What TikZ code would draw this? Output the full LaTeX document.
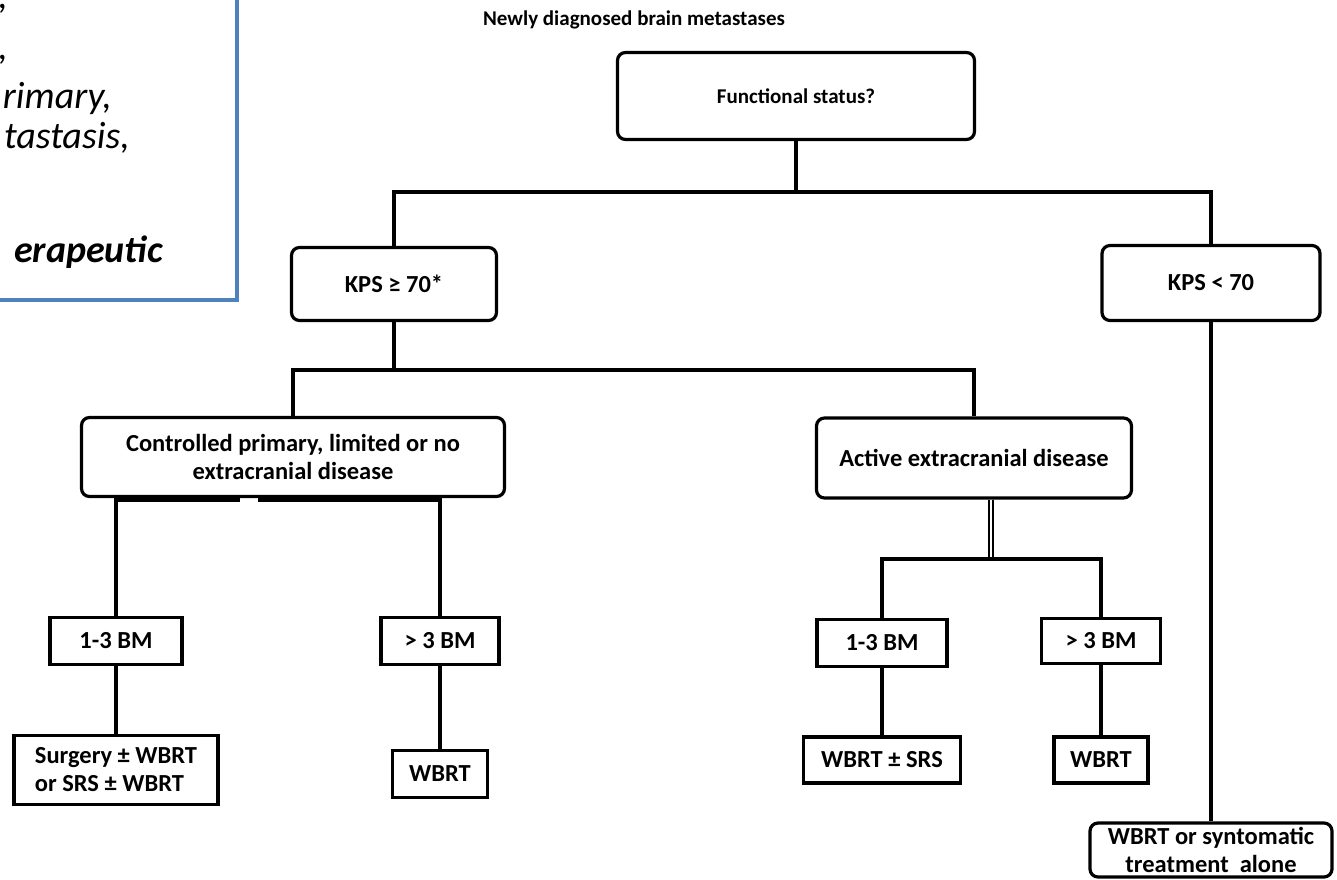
\documentclass[tikz,border=0pt]{standalone}
\usepackage{fontspec}
\setmainfont{Carlito}
\usetikzlibrary{positioning}

\definecolor{slideblue}{RGB}{79,129,189}

\begin{document}
\begin{tikzpicture}[x=1pt, y=-1pt,
    font=\bfseries\fontsize{24.5}{28}\selectfont,
    box/.style={draw, line width=3.2pt, rounded corners=8pt, align=center, inner sep=0pt},
    leaf/.style={draw, line width=3.2pt, align=center, inner sep=0pt},
    link/.style={line width=3.2pt},
    cut/.style={anchor=base east, inner sep=0pt, font=\itshape\mdseries\fontsize{38}{44}\selectfont},
  ]
    \useasboundingbox (0,0) rectangle (1337,879);
    \clip (0,0) rectangle (1337,879);
    % text box of the slide, cut at the left edge
    \draw[slideblue, line width=4.5pt] (-20,-20) rectangle (237,300);
    \node[cut] (c1) at (8,8) {,};
    \node[cut] (c2) at (8,59) {,};
    \node[cut] (c3) at (112,108) {rimary,};
    \node[cut] (c4) at (130,148) {tastasis,};
    \node[cut, font=\itshape\bfseries\fontsize{38}{44}\selectfont] (c5) at (163,262) {erapeutic};
    % title and first question
    \node[font=\bfseries\fontsize{21}{25}\selectfont] (title) at (634,20) {Newly diagnosed brain metastases};
    \node[box, minimum width=357, minimum height=87, font=\bfseries\fontsize{21}{25}\selectfont] (fs) at (796,96) {Functional status?};
    % performance status
    \node[box, minimum width=205, minimum height=73] (kpshi) at (394,284) {KPS ≥ 70*};
    \node[box, minimum width=218, minimum height=75] (kpslo) at (1211,283) {KPS < 70};
    % extracranial disease
    \node[box, minimum width=423, minimum height=79] (ctrl) at (293,457) {Controlled primary, limited or no\\extracranial disease};
    \node[box, minimum width=315, minimum height=80] (act) at (974,458) {Active extracranial disease};
    % number of brain metastases
    \node[leaf, minimum width=132, minimum height=47] (bmA) at (116,641) {1-3 BM};
    \node[leaf, minimum width=118, minimum height=47] (bmB) at (440,641) {> 3 BM};
    \node[leaf, minimum width=130, minimum height=47] (bmC) at (882,643) {1-3 BM};
    \node[leaf, minimum width=119, minimum height=45] (bmD) at (1101,641) {> 3 BM};
    % treatment
    \node[leaf, minimum width=204, minimum height=69, align=left] (surg) at (116,770) {Surgery ± WBRT\\or SRS ± WBRT};
    \node[leaf, minimum width=95, minimum height=47] (wbA) at (440,774) {WBRT};
    \node[leaf, minimum width=157, minimum height=46] (wbs) at (882,760) {WBRT ± SRS};
    \node[leaf, minimum width=94, minimum height=46] (wbB) at (1101,760) {WBRT};
    \node[box, minimum width=242, minimum height=54] (alone) at (1211,850) {WBRT or syntomatic\\treatment\ \ alone};
    % connectors
    \coordinate (fsfork) at (796,192);
    \coordinate (kpsfork) at (394,370);
    \coordinate (gapL) at (240,500);
    \coordinate (gapR) at (258,500);
    \coordinate (actfork) at (991,559);
    \draw[link] (fs) -- (fsfork);
    \draw[link] (kpshi.north) |- (fsfork) -| (kpslo.north);
    \draw[link] (kpshi) -- (kpsfork);
    \draw[link] (ctrl.north) |- (kpsfork) -| (act.north);
    \draw[link] (kpslo) -- (alone);
    \draw[link] (bmA.north) |- (gapL);
    \draw[link] (bmB.north) |- (gapR);
    \draw[link, line width=2.2pt, double, double distance=2.5pt] (act.south -| actfork) -- (actfork);
    \draw[link] (bmC.north) |- (actfork) -| (bmD.north);
    \draw[link] (bmA) -- (surg);
    \draw[link] (bmB) -- (wbA);
    \draw[link] (bmC) -- (wbs);
    \draw[link] (bmD) -- (wbB);
\end{tikzpicture}
\end{document}
